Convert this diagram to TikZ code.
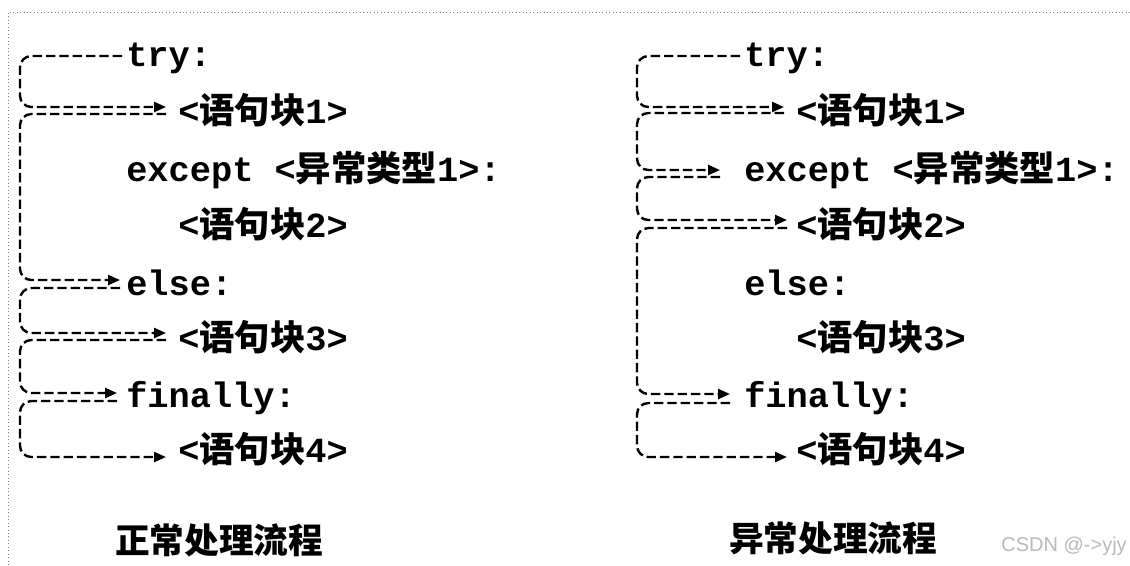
\documentclass[tikz,border=0pt]{standalone}
\usepackage{fontspec}
\setmonofont{Liberation Mono}
\newfontfamily\cjk{Noto Sans CJK SC}
\newfontfamily\wmfont{Liberation Sans}
\usetikzlibrary{arrows.meta,calc}
\newcommand\blkx[1]{<{\cjk 语句块}#1>}
\begin{document}
\begin{tikzpicture}[x=0.75pt,y=-0.75pt,
  code/.style={anchor=base west, inner sep=0pt, font=\fontsize{26.5}{30}\selectfont\ttfamily\bfseries},
  flow/.style={line width=1.8pt, dash pattern=on 7pt off 3pt, rounded corners=8.5pt, -{Triangle[length=9pt,width=7.5pt]}},
  caption/.style={inner sep=0pt, font=\fontsize{26}{30}\selectfont\cjk\bfseries},
]
\useasboundingbox (0,0) rectangle (1130,565);
\draw[gray, dotted, line width=0.6pt] (8,565) -- (8,12) -- (1130,12);

\coordinate (railL) at (20,0);
\coordinate (railR) at (637,0);

% left panel: normal flow
\node[code] (try) at (126,66) {try:};
\node[code] (b1) at (178,123) {\blkx{1}};
\node[code] (exc) at (126,181) {except <{\cjk 异常类型}1>:};
\node[code] (b2) at (178,237) {\blkx{2}};
\node[code] (els) at (126,295) {else:};
\node[code] (b3) at (178,350) {\blkx{3}};
\node[code] (fin) at (126,407) {finally:};
\node[code] (b4) at (178,462) {\blkx{4}};

% right panel: exception flow
\node[code] (rtry) at (744,66) {try:};
\node[code] (rb1) at (796,123) {\blkx{1}};
\node[code] (rexc) at (744,181) {except <{\cjk 异常类型}1>:};
\node[code] (rb2) at (796,237) {\blkx{2}};
\node[code] (rels) at (744,295) {else:};
\node[code] (rb3) at (796,350) {\blkx{3}};
\node[code] (rfin) at (744,407) {finally:};
\node[code] (rb4) at (796,462) {\blkx{4}};

\node[caption] (capL) at (219,540) {正常处理流程};
\node[caption] (capR) at (833,538) {异常处理流程};
\node[anchor=east, inner sep=0pt, text=gray!55, font=\wmfont\fontsize{15}{18}\selectfont] (wm) at (1127,546) {CSDN @->yjy};

% left arrows
\draw[flow] let \p1=([shift={(-4,-10)}]try.base west), \p2=([shift={(-12,-16)}]b1.base west), \p3=(railL) in (\p1) -- (\x3,\y1) -- (\x3,\y2) -- (\p2);
\draw[flow] let \p1=([shift={(-12,-9)}]b1.base west), \p2=([shift={(-6,-15)}]els.base west), \p3=(railL) in (\p1) -- (\x3,\y1) -- (\x3,\y2) -- (\p2);
\draw[flow] let \p1=([shift={(-6,-7)}]els.base west), \p2=([shift={(-12,-17)}]b3.base west), \p3=(railL) in (\p1) -- (\x3,\y1) -- (\x3,\y2) -- (\p2);
\draw[flow] let \p1=([shift={(-12,-10)}]b3.base west), \p2=([shift={(-9,-14)}]fin.base west), \p3=(railL) in (\p1) -- (\x3,\y1) -- (\x3,\y2) -- (\p2);
\draw[flow] let \p1=([shift={(-9,-6)}]fin.base west), \p2=([shift={(-12,-5)}]b4.base west), \p3=(railL) in (\p1) -- (\x3,\y1) -- (\x3,\y2) -- (\p2);

% right arrows
\draw[flow] let \p1=([shift={(-4,-10)}]rtry.base west), \p2=([shift={(-12,-16)}]rb1.base west), \p3=(railR) in (\p1) -- (\x3,\y1) -- (\x3,\y2) -- (\p2);
\draw[flow] let \p1=([shift={(-12,-10)}]rb1.base west), \p2=([shift={(-24,-11)}]rexc.base west), \p3=(railR) in (\p1) -- (\x3,\y1) -- (\x3,\y2) -- (\p2);
\draw[flow] let \p1=([shift={(-24,-4)}]rexc.base west), \p2=([shift={(-9,-17)}]rb2.base west), \p3=(railR) in (\p1) -- (\x3,\y1) -- (\x3,\y2) -- (\p2);
\draw[flow] let \p1=([shift={(-9,-9)}]rb2.base west), \p2=([shift={(-14,-13)}]rfin.base west), \p3=(railR) in (\p1) -- (\x3,\y1) -- (\x3,\y2) -- (\p2);
\draw[flow] let \p1=([shift={(-14,-4)}]rfin.base west), \p2=([shift={(-9,-5)}]rb4.base west), \p3=(railR) in (\p1) -- (\x3,\y1) -- (\x3,\y2) -- (\p2);
\end{tikzpicture}
\end{document}
